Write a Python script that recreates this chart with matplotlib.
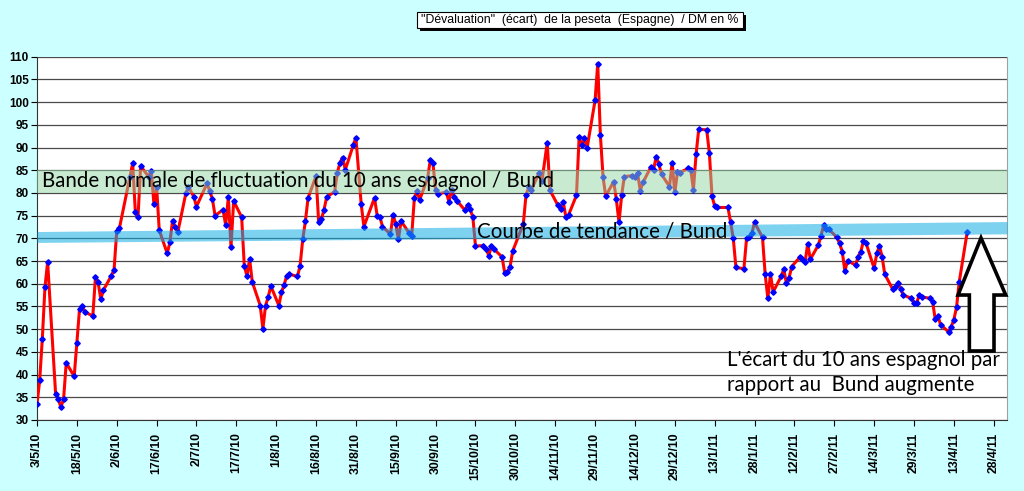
import matplotlib
matplotlib.use("Agg")
import matplotlib.pyplot as plt
import matplotlib.dates as mdates
from matplotlib.patches import Polygon, Rectangle
from matplotlib.ticker import FuncFormatter, MultipleLocator
import pandas as pd

# ---------------------------------------------------------------------------
# Data (business days since 3/5/2010, spread in %)
# ---------------------------------------------------------------------------
START = pd.Timestamp("2010-05-03")

day_offsets = [
    0, 1, 2, 3, 4, 7, 8, 9, 10, 11, 14, 15, 16, 17, 18, 21, 22, 23, 24, 25,
    28, 29, 30, 31, 35, 36, 37, 38, 39, 42, 43, 44, 45, 46, 49, 50, 51, 52, 53,
    56, 57, 59, 60, 64, 65, 66, 67, 70, 71, 72, 73, 74, 77, 78, 79, 80, 81,
    84, 85, 86, 87, 88, 91, 92, 93, 94, 95, 98, 99, 100, 101, 102,
    105, 106, 107, 108, 109, 112, 113, 114, 115, 116, 119, 120, 122, 123,
    127, 128, 129, 130, 133, 134, 135, 136, 137, 140, 141, 142, 143, 144,
    147, 148, 149, 150, 151, 154, 155, 156, 157, 158, 161, 162, 163, 164, 165,
    168, 169, 170, 171, 172, 175, 176, 177, 178, 179, 183, 184, 185, 186,
    189, 190, 192, 193, 196, 197, 198, 199, 200, 203, 204, 205, 206, 207,
    210, 211, 212, 213, 214, 217, 218, 219, 220, 221, 224, 225, 226, 227, 228,
    231, 232, 233, 234, 235, 238, 239, 240, 241, 242, 245, 246, 247, 248, 249,
    252, 253, 254, 255, 256, 260, 261, 262, 263, 266, 267, 268, 269, 270,
    273, 274, 275, 276, 277, 280, 281, 282, 283, 284, 287, 288, 289, 290, 291,
    294, 295, 296, 297, 298, 301, 302, 303, 304, 305, 308, 309, 310, 311, 312,
    315, 316, 317, 318, 319, 322, 323, 324, 325, 326, 329, 330, 331, 332, 333,
    336, 337, 338, 339, 340, 343, 344, 345, 346, 347, 350,
]

spread = [
    33.5, 38.7, 47.9, 59.3, 64.8, 35.8, 34.6, 32.8, 34.6, 42.6, 39.6, 47.0, 54.4, 55.1, 53.8,
    52.9, 61.5, 60.3, 56.6, 58.6, 61.8, 63.1, 71.6, 72.2, 83.6, 86.5, 75.9, 74.6, 85.9,
    83.6, 84.9, 77.5, 81.4, 71.8, 66.7, 69.1, 73.9, 72.4, 71.4,
    79.9, 81.3, 79.2, 77.0, 82.1, 80.4, 78.7, 75.0, 76.3, 72.9, 79.1, 68.1, 78.2,
    74.7, 64.0, 61.7, 65.5, 60.4, 55.2, 50.1, 55.2, 57.1, 59.5, 55.2, 58.1, 59.8, 61.8, 62.1,
    61.6, 64.0, 69.8, 73.8, 78.9, 83.7, 73.5, 74.2, 76.3, 79.1, 80.3, 84.4, 86.7, 87.8, 85.1,
    90.5, 92.2, 77.5, 72.6, 78.9, 75.0, 74.8, 72.6, 70.9, 75.2, 73.1, 69.8, 73.8,
    71.2, 70.6, 78.9, 80.4, 78.5, 83.3, 87.3, 86.5, 80.6, 79.8, 80.2, 78.1, 80.6, 79.1, 78.3,
    76.2, 77.3, 76.4, 74.7, 68.3, 68.4, 67.7, 66.2, 68.3, 67.6, 65.9, 62.4, 62.6, 63.7, 67.2,
    73.2, 79.5, 81.2, 80.7, 84.5, 82.6, 91.1, 80.6, 77.3, 76.5, 78.1, 74.7, 75.1,
    79.5, 92.3, 90.5, 92.0, 89.9, 100.4, 108.5, 92.7, 83.5, 79.3,
    82.5, 78.6, 73.5, 79.5, 83.6, 83.8, 83.6, 84.3, 80.5, 82.3,
    85.7, 85.1, 88.0, 86.4, 84.1, 81.4, 86.7, 80.1, 84.6, 84.5, 85.4, 85.1, 80.7, 88.5, 94.0,
    93.9, 88.8, 79.3, 77.1, 76.8, 76.8, 73.5, 70.0, 63.6, 63.3, 70.0, 70.4, 71.1, 73.5,
    70.2, 62.1, 56.8, 62.1, 58.2, 61.6, 63.2, 60.1, 61.3, 63.8, 65.8, 65.4, 64.7, 68.8, 65.4,
    68.5, 70.5, 72.9, 72.0, 72.0, 70.2, 68.9, 67.1, 62.8, 65.1, 64.1, 66.0, 67.1, 69.5, 68.9,
    63.4, 66.7, 68.3, 66.0, 62.1, 58.8, 59.2, 60.2, 58.8, 57.5, 56.8, 55.8, 55.8, 57.5, 57.1,
    56.8, 56.0, 52.2, 52.9, 51.0, 49.4, 50.5, 52.1, 54.8, 60.3, 71.3,
]

# normal fluctuation band and trend band (bottom/top at left and right edge)
band_low, band_high = 80, 85
trend_left = (69.1, 71.5)
trend_right = (71.0, 73.7)

TITLE = "\"Dévaluation\"  (écart)  de la peseta  (Espagne)  / DM en %"
BAND_LABEL = "Bande normale de fluctuation du 10 ans espagnol / Bund"
TREND_LABEL = "Courbe de tendance / Bund"
NOTE_LINES = ["L'écart du 10 ans espagnol par", "rapport au  Bund augmente"]

BG = "#CCFFFF"
ANNOT_FONT = ["Lato", "DejaVu Sans"]
ANNOT_SIZE = 14.8

dates = START + pd.to_timedelta(day_offsets, unit="D")
x_min = START
x_max = START + pd.Timedelta(days=365)

fig = plt.figure(figsize=(10.24, 4.91), dpi=100, facecolor=BG)
ax = fig.add_axes([37 / 1024, 1 - 420 / 491, 970 / 1024, 363.3 / 491])
ax.set_facecolor("white")

ax.plot(dates, spread, color="#FF0000", lw=2.2, marker="D", ms=2.8,
        mfc="#0000FF", mec="#0000FF", zorder=3)

# translucent bands drawn over the line, as in the original
ax.axhspan(band_low, band_high, color="#91D7A5", alpha=0.5, lw=0, zorder=4)
ax.fill_between([x_min, x_max], [trend_left[0], trend_right[0]],
                [trend_left[1], trend_right[1]], color="#13ADE4", alpha=0.55,
                lw=0, zorder=4)

ax.set_xlim(x_min, x_max)
ax.set_ylim(30, 110)
ax.yaxis.set_major_locator(MultipleLocator(5))
ax.grid(axis="y", color="#4a4a4a", lw=0.9, zorder=1)
ax.set_axisbelow(True)

ticks = pd.date_range(START, periods=25, freq="15D")
ax.set_xticks(ticks)
ax.xaxis.set_major_formatter(FuncFormatter(
    lambda v, pos: (lambda d: f"{d.day}/{d.month}/{d.strftime('%y')}")(mdates.num2date(v))))

for lab in ax.get_xticklabels():
    lab.set_rotation(90)
ax.tick_params(axis="x", labelsize=8.8, length=4, width=0.8, pad=5)
ax.tick_params(axis="y", labelsize=8.5, length=4, width=0.8, pad=2)
for lab in ax.get_xticklabels() + ax.get_yticklabels():
    lab.set_fontfamily("Liberation Sans")
    lab.set_fontweight("bold")

ax.spines["top"].set_visible(False)
ax.spines["right"].set_color("#A0A0A0")
ax.spines["left"].set_color("#333333")
ax.spines["bottom"].set_color("#333333")

# annotations
ax.text(0.005, 0.658, BAND_LABEL, transform=ax.transAxes, fontsize=ANNOT_SIZE,
        family=ANNOT_FONT, va="center", ha="left", zorder=5)
ax.text(0.4536, 0.5175, TREND_LABEL, transform=ax.transAxes, fontsize=ANNOT_SIZE,
        family=ANNOT_FONT, va="center", ha="left", zorder=5)
ax.text(0.711, 0.165, NOTE_LINES[0], transform=ax.transAxes, fontsize=ANNOT_SIZE,
        family=ANNOT_FONT, va="center", ha="left", zorder=5)
ax.text(0.711, 0.096, NOTE_LINES[1], transform=ax.transAxes, fontsize=ANNOT_SIZE,
        family=ANNOT_FONT, va="center", ha="left", zorder=5)

arrow = Polygon([(0.9732, 0.501), (0.9495, 0.344), (0.9612, 0.344), (0.9612, 0.190),
                 (0.9866, 0.190), (0.9866, 0.344), (0.9987, 0.344)],
                closed=True, transform=ax.transAxes, facecolor="white",
                edgecolor="black", lw=2.6, zorder=6, clip_on=False)
ax.add_patch(arrow)

# title box with drop shadow
fig.patches.append(Rectangle((419.7 / 1024, 1 - 31.3 / 491), 326.6 / 1024, 16.6 / 491,
                             transform=fig.transFigure, facecolor="black", lw=0))
fig.patches.append(Rectangle((416.7 / 1024, 1 - 28.3 / 491), 326.6 / 1024, 16.6 / 491,
                             transform=fig.transFigure, facecolor="white",
                             edgecolor="black", lw=0.8))
fig.text(580 / 1024, 1 - 20 / 491, TITLE, ha="center", va="center", fontsize=8.8,
         family="Liberation Sans")

fig.savefig("out.png", dpi=100, facecolor=BG)
